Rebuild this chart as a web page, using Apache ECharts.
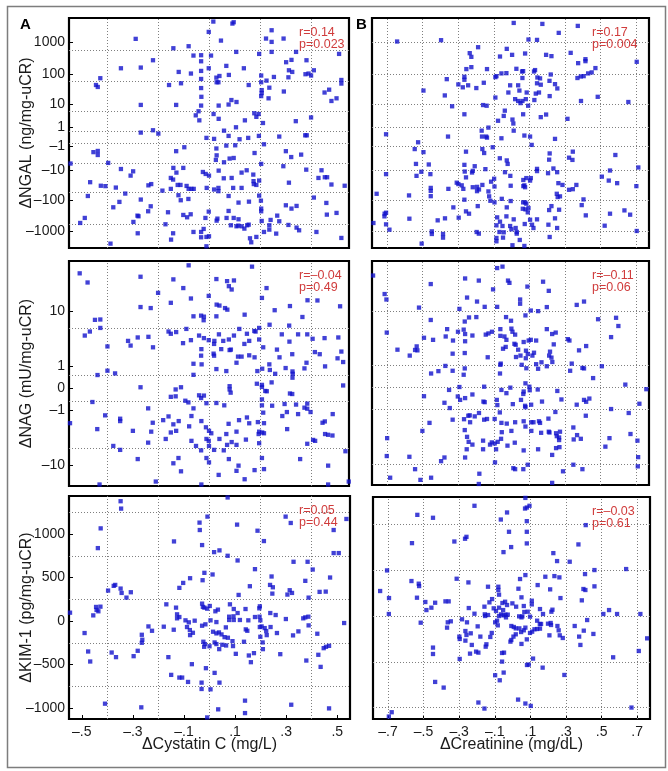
<!DOCTYPE html>
<html><head><meta charset="utf-8">
<script src="https://cdn.jsdelivr.net/npm/echarts@6/dist/echarts.min.js"></script>
<style>html,body{margin:0;padding:0;background:#fff}#c{width:668px;height:771px}</style>
</head><body><div id="c"></div>
<script>
// ---- data: [Δx, Δy] per subject ----
const ngalCystatin = [[0.017,4640],[0.092,4010],[0.097,4420],[-0.001,2180],[0.246,2460],[0.224,1340],[0.293,1340],[0.246,1050],[-0.288,1310],[0.047,1155],[-0.080,765],[-0.140,660],[-0.061,386],[-0.031,396],[0.008,386],[0.107,505],[0.246,505],[0.197,436],[0.342,505],[0.511,436],[-0.031,254],[-0.220,274],[0.383,274],[0.324,281],[0.303,237],[-0.346,152],[-0.268,160],[-0.001,152],[0.068,181],[0.137,152],[-0.031,125],[0.412,131],[0.314,131],[0.327,116],[-0.119,116],[-0.071,103],[0.041,86],[0.078,93],[-0.031,69],[0.029,76],[0.037,54],[0.030,54],[0.205,89],[0.255,80],[0.379,98],[0.391,103],[0.401,89],[0.312,78],[-0.427,73],[-0.444,44],[-0.437,38],[-0.110,50],[-0.157,44],[0.156,44],[0.205,54],[0.226,61],[0.520,64],[0.520,49],[0.237,36],[0.207,30],[0.207,24],[0.205,19],[0.294,27],[0.234,16],[0.454,25],[0.472,31],[0.501,16],[0.481,13],[-0.031,35],[-0.030,18],[-0.031,9],[0.038,9],[0.088,14],[0.108,12],[0.077,9.8],[-0.268,9.5],[-0.129,9.5],[-0.041,5.6],[-0.052,3.9],[-0.038,2.4],[0.018,4.4],[0.038,2.8],[0.195,4.4],[0.178,4.7],[0.186,3.4],[0.212,1.8],[0.141,2.4],[0.341,2.2],[0.401,3.2],[0.106,1.05],[0.059,0.6],[0.077,0.09],[0.154,-0.06],[0.196,0.09],[0.276,0.04],[0.378,0.14],[0.384,0.14],[-0.268,0.39],[-0.220,0.65],[-0.199,0.29],[-0.010,-0.06],[0.020,-0.14],[0.120,-0.17],[0.029,-1.3],[0.068,-0.86],[0.103,-0.82],[0.216,-0.69],[-0.097,-1.1],[-0.129,-1.8],[-0.454,-2.0],[-0.437,-1.75],[-0.437,-2.7],[0.302,-1.8],[0.179,-2.2],[0.030,-2.8],[0.323,-3.3],[0.362,-2.6],[0.059,-5.3],[0.081,-3.8],[0.097,-3.6],[0.027,-4.3],[0.205,-6.1],[0.292,-7.4],[0.382,-9.8],[-0.544,-5.9],[-0.396,-5.6],[-0.346,-9.3],[-0.298,-11.2],[-0.308,-15.7],[-0.024,-11.8],[-0.013,-13.8],[0.000,-15.7],[0.038,-10.6],[0.058,-19.3],[0.089,-18.8],[0.128,-12.4],[0.148,-10.3],[0.174,-14.5],[0.175,-24],[0.197,-23],[0.176,-30],[0.186,-32],[-0.140,-8.5],[-0.101,-8.5],[-0.128,-12.4],[-0.150,-18.8],[-0.141,-21.3],[0.442,-10.3],[0.430,-18.8],[0.455,-17.8],[0.464,-17.8],[0.481,-31],[0.533,-34],[-0.467,-26],[-0.425,-34],[-0.407,-35],[-0.366,-39],[-0.238,-33],[-0.227,-30],[-0.183,-49],[-0.150,-43],[-0.123,-32],[-0.112,-32],[-0.088,-34.5],[-0.080,-43],[-0.069,-43],[-0.060,-43],[-0.009,-40],[0.020,-45],[0.037,-40],[0.037,-51],[0.095,-40],[0.128,-40],[0.314,-27],[-0.476,-73],[-0.329,-61],[-0.120,-69],[-0.111,-100],[-0.081,-91],[0.077,-73],[0.197,-71],[0.204,-103],[0.412,-82],[-0.352,-113],[-0.268,-95],[0.116,-119],[0.157,-111],[-0.376,-168],[-0.281,-310],[-0.229,-156],[-0.239,-225],[-0.161,-242],[-0.072,-281],[-0.001,-231],[0.077,-220],[0.205,-185],[0.205,-225],[0.302,-145],[0.324,-185],[0.344,-152],[0.461,-122],[0.463,-288],[0.501,-254],[-0.488,-367],[-0.506,-530],[-0.297,-492],[-0.277,-325],[-0.171,-584],[-0.101,-295],[-0.086,-350],[-0.014,-367],[0.033,-386],[0.030,-447],[0.069,-367],[0.097,-367],[0.116,-405],[0.086,-628],[0.108,-677],[0.115,-644],[0.128,-677],[0.139,-802],[0.150,-628],[0.156,-599],[0.207,-458],[0.242,-425],[0.237,-628],[0.268,-310],[0.312,-613],[0.344,-745],[0.354,-907],[0.276,-469],[-0.280,-1129],[-0.141,-1129],[-0.061,-1025],[-0.031,-1025],[-0.021,-821],[-0.031,-1513],[0.000,-1405],[-0.010,-1475],[-0.149,-1794],[0.161,-1629],[0.186,-1475],[0.216,-1025],[0.237,-864],[0.264,-1156],[0.422,-1025],[0.520,-1588],[-0.387,-2404],[-0.010,-2922],[0.166,-2182]];

const ngalCreatinine = [[0.012,4200],[0.173,3910],[0.372,3380],[0.265,2030],[-0.643,1080],[-0.396,1190],[0.095,1250],[0.143,1215],[-0.188,712],[-0.027,631],[0.003,407],[-0.235,460],[-0.226,351],[-0.065,360],[0.076,449],[0.194,407],[0.224,370],[0.332,471],[0.374,221],[0.415,296],[0.415,256],[0.703,244],[-0.254,143],[-0.226,165],[-0.138,143],[0.027,146],[0.059,120],[0.065,123],[0.132,133],[0.126,120],[0.220,96],[0.061,74],[-0.029,106],[-0.057,104],[-0.085,85],[-0.091,79],[0.471,154],[0.450,112],[0.430,104],[0.405,85],[0.389,83],[0.370,74],[-0.265,81],[-0.265,65],[-0.299,46],[-0.274,37],[-0.244,43],[-0.198,35],[-0.156,52],[-0.364,68],[-0.495,29],[-0.008,43],[0.037,43],[-0.018,25],[0.044,29],[0.085,25],[0.145,77],[0.160,72],[0.143,50],[0.164,45],[0.213,60],[0.257,34],[0.244,47],[0.136,23],[0.154,25],[-0.375,20],[-0.091,17],[0.020,15],[0.037,13],[0.061,13],[0.080,15],[0.050,11],[0.093,8.9],[0.128,14],[0.214,19],[0.390,13],[0.484,18],[0.656,12],[-0.334,8.5],[-0.160,9.4],[-0.140,8.9],[-0.265,4.3],[-0.038,5.9],[-0.044,3.7],[-0.076,2.3],[0.005,2.6],[0.010,1.7],[0.065,4.3],[0.164,3.3],[0.194,4.2],[0.314,2.8],[0.012,0.6],[-0.168,0.6],[-0.130,1.0],[-0.143,0.04],[-0.166,0.04],[-0.138,-0.04],[-0.057,-0.09],[0.072,0.12],[0.104,0.04],[0.113,-0.77],[0.244,-0.14],[-0.705,0.23],[-0.357,0.04],[-0.525,-0.46],[-0.544,-1.4],[-0.495,-2.0],[-0.256,-1.9],[-0.164,-1.4],[-0.154,-2.2],[-0.106,-1.1],[0.214,-2.3],[0.211,-4.2],[0.323,-3.5],[0.344,-1.9],[0.342,-4.3],[0.583,-2.7],[-0.066,-3.7],[-0.027,-4.5],[-0.022,-6.1],[-0.537,-6.1],[-0.465,-6.4],[-0.507,-11.6],[-0.534,-16],[-0.456,-14],[-0.265,-6.6],[-0.207,-7.4],[-0.218,-10.8],[-0.222,-12.3],[-0.147,-9.4],[-0.037,-12],[-0.007,-16],[-0.263,-11.4],[-0.256,-18],[0.143,-9.2],[0.143,-11],[0.205,-13],[0.235,-8.9],[0.256,-12],[0.066,-22],[0.083,-19],[0.108,-19],[0.104,-23],[-0.098,-20],[-0.115,-25],[0.507,-17],[0.553,-10.5],[0.546,-23],[0.593,-28],[0.712,-8.2],[-0.705,-14],[-0.308,-27],[-0.299,-30],[-0.280,-33],[-0.271,-43],[-0.218,-38],[-0.194,-37],[-0.164,-32],[-0.194,-51],[-0.183,-45],[-0.130,-52],[-0.096,-36],[-0.005,-34],[0.066,-35],[0.072,-33],[0.076,-38],[0.263,-28],[0.286,-32],[0.323,-46],[0.344,-44],[0.364,-32],[0.701,-35],[-0.758,-62],[-0.576,-70],[-0.454,-40],[-0.454,-50],[-0.355,-43],[-0.454,-74],[-0.265,-96],[-0.126,-75],[-0.119,-104],[-0.096,-117],[-0.055,-90],[-0.005,-106],[0.065,-117],[0.076,-117],[0.083,-129],[0.254,-62],[0.259,-79],[0.272,-75],[0.404,-94],[0.394,-143],[0.224,-154],[-0.327,-169],[-0.713,-269],[-0.705,-250],[-0.705,-587],[-0.686,-866],[-0.574,-388],[-0.415,-438],[-0.374,-378],[-0.297,-360],[-0.256,-227],[-0.239,-269],[-0.190,-154],[0.063,-187],[0.078,-196],[0.095,-178],[0.091,-244],[-0.027,-169],[-0.081,-352],[-0.065,-483],[-0.029,-327],[0.012,-407],[0.104,-418],[0.143,-407],[0.211,-206],[0.244,-378],[0.267,-201],[0.417,-304],[0.553,-269],[0.634,-211],[0.666,-289],[-0.714,-327],[-0.776,-532],[-0.448,-979],[-0.448,-1188],[-0.385,-1188],[-0.385,-1552],[-0.196,-1027],[-0.184,-1160],[-0.085,-631],[-0.051,-663],[-0.008,-663],[-0.068,-1027],[-0.044,-1051],[-0.001,-844],[0.023,-766],[0.029,-1027],[0.029,-1160],[0.074,-573],[0.115,-602],[0.123,-766],[0.207,-602],[0.256,-766],[0.523,-648],[0.703,-954],[-0.505,-2400],[-0.085,-1590],[-0.085,-2030],[-0.048,-1552],[0.046,-1840],[0.072,-2850],[0.214,-1480],[0.005,-2710]];

const nagCystatin = [[-0.508,35.5],[-0.477,26.4],[-0.080,45.9],[0.169,44],[-0.269,31.8],[-0.140,29.2],[0.029,29.5],[0.071,27.6],[0.098,28.2],[0.078,23.4],[0.089,21],[-0.101,22],[0.226,22],[-0.200,18.8],[-0.001,17],[-0.071,15.6],[-0.150,13.5],[0.030,12.7],[0.041,12.3],[0.063,11.3],[0.072,10.7],[0.208,15.9],[0.258,10.5],[0.318,12.1],[0.387,14.7],[0.426,14.6],[0.515,12.0],[-0.269,11.7],[-0.229,11.3],[-0.448,7.5],[-0.427,7.6],[-0.427,5.6],[-0.488,4.2],[-0.468,4.9],[-0.399,2.7],[-0.318,3.4],[-0.308,2.8],[-0.280,3.9],[-0.238,4.0],[-0.220,2.6],[-0.061,8.5],[-0.031,8.7],[-0.020,8.4],[-0.021,7.4],[0.029,8.5],[0.140,9],[0.238,6.3],[0.315,6.1],[0.367,8.3],[-0.159,4.9],[-0.150,4.5],[-0.129,4.8],[-0.102,3.1],[-0.089,5.4],[-0.071,3.5],[-0.039,4.2],[-0.020,3.8],[-0.001,3.5],[0.021,3.4],[0.020,3.0],[0.039,4.4],[0.056,3.4],[0.078,3.6],[0.098,4.2],[0.119,5.4],[0.139,3.0],[0.149,4.5],[0.158,3.4],[0.178,5.0],[0.183,4.9],[0.197,5.6],[0.197,3.6],[0.213,2.6],[0.286,4.4],[0.316,3.3],[0.350,4.4],[0.386,4.4],[0.407,3.7],[0.454,3.8],[0.508,3.9],[-0.030,2.4],[0.048,2.4],[0.086,2.35],[0.081,2.3],[0.018,1.95],[0.020,1.77],[-0.031,1.77],[0.114,1.69],[0.128,1.69],[0.158,1.8],[0.179,1.63],[0.267,2.35],[0.277,1.63],[0.327,1.9],[0.416,2.1],[0.435,1.9],[0.520,2.15],[0.505,1.55],[0.527,1.27],[-0.061,1.15],[-0.029,1.11],[0.108,1.22],[-0.399,0.73],[-0.369,0.59],[-0.438,0.51],[-0.061,0.52],[0.029,0.82],[0.068,0.71],[0.190,0.71],[0.209,0.84],[0.237,1.11],[0.239,0.77],[0.260,0.57],[0.301,0.88],[0.328,0.69],[0.329,0.57],[0.328,0.39],[0.375,0.86],[0.383,1.22],[0.456,0.98],[-0.269,0.03],[-0.131,-0.04],[-0.110,0.03],[0.208,0.11],[0.208,0.04],[0.188,0.15],[0.221,-0.09],[0.227,-0.1],[0.246,0.20],[0.081,0.065],[0.081,-0.04],[0.085,-0.15],[0.527,0.09],[0.327,-0.2],[0.318,-0.18],[-0.150,-0.31],[-0.131,-0.29],[-0.039,-0.25],[-0.031,-0.36],[-0.020,-0.26],[-0.010,-0.6],[0.029,-0.59],[0.060,-0.71],[-0.093,-0.48],[-0.081,-0.56],[-0.061,-0.88],[-0.458,-0.54],[-0.239,-0.88],[0.208,-0.42],[0.208,-0.71],[0.248,-0.73],[0.213,-1.15],[0.297,-0.64],[0.306,-1.11],[0.342,-0.67],[0.375,-0.84],[0.386,-0.62],[0.386,-0.9],[0.350,-1.25],[0.399,-1.11],[-0.546,-1.99],[-0.408,-1.34],[-0.349,-1.6],[-0.349,-1.8],[-0.221,-1.95],[-0.180,-1.72],[-0.159,-1.42],[-0.140,-2.1],[-0.119,-1.8],[-0.078,-2.3],[-0.069,-1.39],[-0.030,-1.8],[0.077,-2.05],[0.118,-1.72],[0.149,-1.5],[0.158,-2.0],[0.192,-1.89],[0.216,-1.99],[0.197,-2.9],[0.209,-3.0],[0.216,-3.1],[0.288,-1.39],[0.307,-2.6],[0.446,-1.95],[0.455,-1.83],[0.486,-1.25],[-0.439,-2.6],[-0.299,-2.8],[-0.227,-2.9],[-0.170,-3.9],[-0.150,-3.0],[-0.129,-2.8],[-0.069,-4.2],[-0.012,-2.4],[0.000,-2.8],[0.009,-3.1],[-0.010,-3.9],[-0.001,-4.2],[0.041,-3.9],[0.068,-3.2],[0.108,-2.9],[0.195,-3.2],[0.456,-3.2],[0.468,-3.3],[0.485,-3.4],[-0.376,-5.1],[-0.349,-5.9],[-0.239,-4.5],[-0.051,-5.1],[-0.031,-6.0],[0.000,-5.1],[0.020,-5.9],[0.058,-6.0],[0.071,-4.9],[0.089,-4.4],[0.108,-4.9],[0.145,-4.0],[0.197,-4.6],[0.386,-4.7],[0.409,-4.05],[0.417,-4.2],[0.536,-6.2],[-0.280,-8.2],[-0.140,-9.5],[-0.120,-7.9],[-0.010,-7.9],[0.000,-9.2],[0.038,-14.1],[0.078,-8.2],[0.108,-12.3],[0.116,-10.3],[0.140,-16.3],[0.179,-12.0],[0.208,-7.9],[0.216,-11.6],[0.358,-8.2],[0.468,-10.3],[-0.209,-17.6],[-0.430,-19.4],[-0.030,-19.4],[0.468,-19.4],[0.549,-17.6],[-0.110,-12.5]];

const nagCreatinine = [[-0.081,42],[-0.051,44],[-0.778,33],[-0.713,18],[-0.703,15],[-0.454,25],[-0.261,30],[-0.184,28],[-0.104,21],[-0.020,28],[-0.012,26],[0.089,23],[0.177,27],[0.209,20],[0.048,15],[0.048,13],[-0.250,16],[-0.194,14],[-0.520,11.4],[-0.293,10.9],[-0.151,11.7],[-0.081,11.7],[0.108,10.3],[0.149,10.1],[0.198,11.6],[0.366,12.5],[0.407,14],[-0.454,7.4],[-0.263,7.0],[-0.239,8.1],[-0.198,8.2],[-0.031,8.2],[-0.003,7.2],[0.078,8.7],[0.486,7.6],[0.587,8.0],[0.600,5.95],[-0.701,4.65],[-0.492,3.8],[-0.441,3.5],[-0.362,5.3],[-0.370,4.0],[-0.329,3.4],[-0.301,4.8],[-0.269,5.2],[-0.261,4.4],[-0.261,3.3],[-0.220,4.15],[-0.145,4.3],[-0.130,4.5],[-0.110,4.8],[-0.063,4.1],[-0.063,5.3],[-0.040,4.0],[-0.001,5.4],[0.005,4.8],[0.016,2.97],[0.023,2.85],[-0.029,3.5],[-0.033,2.6],[0.020,4.3],[0.068,3.2],[0.096,3.4],[0.108,3.5],[0.138,3.4],[0.198,5.3],[0.228,4.4],[0.248,4.65],[0.237,2.9],[0.316,3.6],[0.325,3.4],[0.559,3.9],[-0.641,2.3],[-0.572,1.74],[-0.542,2.27],[-0.533,2.66],[-0.529,2.23],[-0.331,1.91],[-0.263,1.97],[-0.134,1.6],[-0.061,1.13],[-0.048,2.4],[0.025,1.62],[0.037,2.3],[0.050,1.74],[0.080,1.52],[0.091,1.88],[0.117,1.74],[0.126,2.0],[0.081,2.2],[0.211,1.74],[0.216,2.1],[0.224,1.57],[0.229,1.24],[0.168,1.22],[0.057,1.05],[0.083,0.84],[0.138,1.09],[0.149,0.81],[0.198,0.96],[0.329,0.7],[0.338,1.13],[0.398,0.86],[0.407,0.83],[0.419,2.7],[0.379,2.23],[0.507,0.96],[-0.372,0.98],[-0.411,0.68],[-0.452,0.56],[-0.331,0.7],[-0.269,0.5],[-0.263,0.83],[-0.065,0.56],[-0.063,1.05],[-0.007,0],[0.078,0.145],[0.066,-0.22],[0.100,0.03],[0.102,-0.085],[0.147,-0.06],[0.068,-0.13],[0.257,-0.11],[-0.351,-0.075],[-0.293,0.02],[-0.302,-0.32],[-0.289,-0.47],[-0.261,-0.39],[-0.220,-0.24],[-0.154,0.03],[-0.158,-0.55],[-0.151,-0.58],[-0.083,-0.47],[-0.080,-0.73],[-0.057,-0.075],[-0.029,-0.19],[0.007,-0.68],[0.053,-0.47],[0.076,-0.77],[0.078,-0.85],[0.110,-0.71],[0.171,-0.55],[0.280,-0.45],[0.366,-0.71],[0.407,-0.47],[0.419,-0.56],[0.437,-0.41],[0.458,0.35],[0.639,0.1],[0.757,-0.05],[-0.492,-0.31],[-0.377,-0.61],[-0.347,-0.9],[0.718,-0.66],[-0.243,-1.42],[-0.235,-1.39],[-0.207,-1.47],[-0.183,-1.22],[-0.154,-1.74],[-0.138,-1.68],[-0.331,-1.74],[-0.267,-1.7],[-0.233,-1.97],[-0.095,-1.68],[-0.066,-1.18],[-0.057,-2.03],[-0.027,-2.1],[-0.001,-2.9],[0.020,-1.97],[0.068,-1.88],[0.078,-2.4],[0.111,-1.97],[0.123,-1.97],[0.154,-1.88],[0.160,-2.03],[0.111,-2.9],[0.166,-3.14],[0.209,-3.0],[0.213,-3.1],[0.250,-3.2],[0.254,-3.6],[0.267,-3.8],[0.267,-4.2],[0.272,-3.0],[0.246,-1.15],[0.207,-1.65],[0.417,-1.42],[0.347,-2.5],[0.368,-3.45],[0.389,-4.0],[0.349,-4.1],[0.559,-0.96],[0.658,-1.22],[0.668,-3.3],[0.707,-4.3],[-0.461,-2.03],[-0.501,-2.9],[-0.699,-3.9],[-0.701,-7.6],[-0.574,-7.8],[-0.263,-2.8],[-0.250,-3.7],[-0.252,-5.95],[-0.241,-4.5],[-0.220,-5.0],[-0.160,-4.3],[-0.160,-5.95],[-0.121,-5.0],[-0.111,-4.6],[-0.095,-4.8],[-0.078,-4.5],[-0.087,-5.95],[-0.059,-4.0],[-0.055,-3.06],[-0.023,-5.2],[0.018,-4.65],[0.068,-6.2],[0.149,-5.95],[0.228,-7.3],[0.250,-5.7],[0.269,-5.5],[0.527,-5.4],[0.550,-3.9],[-0.396,-9.1],[-0.377,-8.0],[-0.261,-8.0],[-0.181,-14.0],[-0.093,-9.5],[0.010,-11.6],[0.020,-12.0],[0.066,-12.0],[0.091,-10.3],[0.289,-12.9],[0.347,-10.3],[0.398,-12.0],[0.711,-7.9],[0.709,-10.9],[-0.682,-16],[-0.542,-12.0],[-0.512,-17.2],[-0.452,-16],[-0.184,-19.7],[0.228,-19]];

const kimCystatin = [[-0.348,1377],[-0.346,1292],[0.071,1420],[-0.008,1200],[-0.039,1131],[-0.038,1046],[0.108,1108],[0.298,1200],[0.318,1127],[0.536,1173],[-0.426,1065],[0.188,1038],[0.486,1046],[-0.437,838],[-0.139,915],[-0.029,873],[0.213,919],[0.018,792],[0.039,812],[0.071,750],[0.110,696],[0.486,781],[0.506,781],[0.404,592],[0.384,681],[0.178,596],[0.243,512],[0.329,681],[0.375,462],[0.431,335],[0.455,338],[0.472,500],[0.237,415],[0.248,388],[0.246,315],[0.314,354],[0.323,323],[0.305,304],[0.388,269],[-0.020,554],[0.012,535],[-0.027,469],[0.114,300],[0.158,400],[-0.076,492],[-0.103,438],[-0.118,381],[-0.369,415],[-0.348,373],[-0.344,323],[-0.325,269],[-0.308,331],[-0.397,350],[-0.375,404],[-0.455,65],[-0.444,162],[-0.435,112],[-0.427,165],[-0.442,127],[-0.546,96],[-0.489,-138],[-0.475,-350],[-0.467,-465],[-0.265,-158],[-0.263,-215],[-0.239,-62],[-0.225,-112],[-0.265,-250],[-0.179,-65],[-0.140,-100],[-0.169,192],[-0.131,154],[-0.127,77],[-0.127,31],[-0.118,46],[-0.094,8],[-0.088,-69],[-0.081,-15],[-0.077,-104],[-0.065,-135],[-0.076,-162],[-0.058,4],[-0.029,200],[-0.026,162],[-0.029,-54],[-0.020,154],[-0.009,142],[0.001,173],[0.004,8],[0.027,-12],[0.023,112],[0.033,131],[-0.016,-38],[-0.018,-265],[-0.021,-296],[0.000,-290],[0.020,-246],[0.037,-131],[0.027,-142],[0.047,-154],[0.059,-185],[0.064,-73],[0.077,50],[0.077,12],[0.080,192],[0.095,138],[0.094,54],[0.095,12],[0.110,92],[0.119,12],[0.141,138],[0.152,8],[0.148,-112],[0.195,146],[0.197,169],[0.199,8],[0.197,-69],[0.199,-181],[0.204,-62],[0.208,-246],[0.209,-323],[0.216,-81],[0.222,-115],[0.239,-69],[0.224,-162],[0.264,-138],[0.238,92],[0.259,69],[0.196,50],[0.178,46],[0.090,-231],[0.072,-192],[0.065,-281],[0.027,-265],[0.014,-123],[-0.024,-238],[0.050,-273],[0.038,-323],[0.092,-288],[0.135,-238],[0.142,-96],[0.174,-369],[0.154,-396],[0.162,-473],[0.103,-377],[-0.383,-362],[-0.281,-342],[-0.297,-404],[-0.366,-415],[-0.161,-415],[-0.150,-619],[-0.118,-650],[-0.069,-496],[-0.031,-708],[-0.014,-542],[0.020,-596],[0.039,-708],[-0.107,-650],[-0.084,-700],[0.277,-381],[0.299,23],[0.327,-165],[0.348,-119],[0.367,31],[0.375,42],[0.388,-50],[0.387,50],[0.379,-454],[0.422,-146],[0.426,-388],[0.435,-527],[0.447,-312],[0.456,-296],[0.468,-285],[0.527,-23],[-0.409,-950],[-0.267,-992],[-0.009,-1108],[0.034,-1015],[0.139,-915],[0.139,-1058],[0.320,-962],[0.468,-1004],[-0.031,-781],[0.004,-785]];

const kimCreatinine = [[0.072,1290],[0.070,1174],[0.080,1185],[0.095,1204],[-0.031,1131],[-0.066,1054],[0.080,1036],[0.080,920],[0.080,793],[0.411,993],[-0.020,920],[-0.008,753],[-0.051,698],[-0.535,1105],[-0.447,1073],[-0.214,1204],[-0.327,814],[-0.267,844],[-0.259,865],[-0.565,796],[0.370,782],[0.229,687],[0.250,600],[0.321,593],[-0.705,498],[0.042,404],[0.072,447],[0.141,338],[0.184,429],[0.235,436],[0.263,422],[0.211,291],[0.269,196],[0.407,458],[0.460,502],[0.638,513],[0.460,324],[0.398,295],[0.409,284],[0.389,171],[0.542,65],[0.510,22],[0.587,22],[0.718,22],[0.756,-244],[-0.744,273],[-0.694,196],[-0.695,22],[-0.568,382],[-0.527,353],[-0.525,327],[-0.537,200],[-0.490,153],[-0.484,65],[-0.456,91],[-0.435,145],[-0.377,160],[-0.359,160],[-0.314,407],[-0.248,367],[-0.138,320],[-0.080,320],[-0.080,284],[0.033,298],[0.050,204],[-0.076,233],[-0.158,102],[-0.130,149],[-0.115,185],[-0.156,18],[-0.154,0],[-0.138,11],[-0.106,84],[-0.093,55],[-0.076,91],[-0.057,142],[-0.042,156],[-0.031,120],[-0.053,65],[-0.051,7],[-0.040,15],[-0.027,15],[-0.001,138],[0.020,102],[0.037,-4],[0.063,109],[0.066,44],[0.085,47],[0.108,167],[0.108,127],[0.098,-7],[0.154,76],[0.171,22],[0.218,47],[0.224,69],[0.055,-4],[0.050,-15],[0.138,-51],[0.160,-87],[0.199,-84],[0.214,-76],[0.216,-98],[0.252,-109],[-0.516,-73],[-0.364,-69],[-0.368,-127],[-0.347,-58],[-0.284,-36],[-0.256,-69],[-0.246,87],[-0.214,25],[-0.196,-113],[-0.235,-189],[-0.265,-164],[-0.259,-207],[-0.299,-225],[-0.297,-251],[-0.265,-269],[-0.229,-316],[-0.181,-225],[-0.147,-309],[-0.151,-335],[-0.125,-229],[-0.117,-185],[-0.083,-102],[-0.098,-69],[-0.087,-51],[-0.076,0],[-0.065,18],[-0.037,-15],[-0.007,-109],[0.007,-120],[0.018,-135],[0.038,-135],[0.063,-156],[0.072,-127],[0.048,-175],[0.018,-200],[0.005,-225],[-0.007,-262],[-0.012,-280],[0.050,-305],[0.080,-255],[0.098,-185],[0.110,-171],[0.123,-145],[0.138,-142],[0.154,-138],[0.153,-87],[0.207,-211],[0.259,-156],[0.265,-211],[0.282,-240],[0.349,-109],[0.374,-225],[0.381,-316],[0.400,-160],[0.419,-44],[0.454,-196],[-0.447,-345],[-0.447,-415],[-0.297,-469],[-0.239,-411],[-0.205,-389],[-0.192,-400],[-0.059,-404],[-0.048,-400],[-0.059,-498],[-0.050,-618],[0.081,-535],[0.091,-531],[0.115,-465],[0.169,-564],[-0.098,-647],[-0.072,-702],[0.291,-644],[0.565,-451],[0.709,-382],[-0.435,-720],[-0.387,-782],[-0.192,-945],[-0.158,-1011],[0.031,-913],[0.072,-956],[0.102,-982],[0.668,-1000],[-0.695,-1098],[-0.679,-1051]];

// ---- tick labels ----
const cystatinTicks = [-0.5,-0.3,-0.1,0.1,0.3,0.5];
const creatinineTicks = [-0.7,-0.5,-0.3,-0.1,0.1,0.3,0.5,0.7];
const ngalTicks = [-1000,-100,-10,-1,1,10,100,1000];
const nagTicks = [-10,-1,0,1,10];
const kimTicks = [-1000,-500,0,500,1000];
// grid line values (panel A grids are offset from its labels, as in the figure)
const cystatinGrid = [-0.4,-0.2,0,0.2,0.4];
const ngalGridA = [-580,-57,-5.7,-0.5,0.5,5.7,57,580];
const nagGridA = [-5.6,-0.5,0.5,5.6];
const kimGridA = [-750,-250,250,750,1250];
// correlation statistics
const statsR = ['r=0.14','r=0.17','r=\u20130.04','r=\u20130.11','r=0.05','r=\u20130.03'];
const statsP = ['p=0.023','p=0.004','p=0.49','p=0.06','p=0.44','p=0.61'];

const slog = v => Math.sign(v) * Math.log10(1 + Math.abs(v));
const unslog = t => Math.sign(t) * (Math.pow(10, Math.abs(t)) - 1);
const ident = v => v;
const dash = s => s.replace('-', '\u2013');
const fmtX = v => dash((Math.round(v * 10) / 10).toFixed(1).replace('0.', '.'));
const FONT = 'Liberation Sans, Arial, Helvetica, sans-serif';
const BLUE = '#1212cc';

const panels = [
  {grid:{left:69, top:18, width:280, height:230}, data:ngalCystatin, xr:[-0.55,0.55], yr:[-3.52,3.78], tf:slog, xt:cystatinTicks, yt:ngalTicks, xg:cystatinGrid, yg:ngalGridA, col:0, row:0, yname:'\u0394NGAL (ng/mg-uCR)'},
  {grid:{left:372, top:18, width:277, height:230}, data:ngalCreatinine, xr:[-0.784,0.772], yr:[-3.52,3.78], tf:slog, xt:creatinineTicks, yt:ngalTicks, xg:creatinineTicks, yg:ngalTicks, col:1, row:0},
  {grid:{left:69, top:261, width:280, height:225}, data:nagCystatin, xr:[-0.55,0.55], yr:[-1.33,1.73], tf:slog, xt:cystatinTicks, yt:nagTicks, xg:cystatinGrid, yg:nagGridA, col:0, row:1, yname:'\u0394NAG (mU/mg-uCR)'},
  {grid:{left:372, top:261, width:277, height:224}, data:nagCreatinine, xr:[-0.784,0.772], yr:[-1.33,1.73], tf:slog, xt:creatinineTicks, yt:nagTicks, xg:creatinineTicks, yg:nagTicks, col:1, row:1},
  {grid:{left:69, top:496, width:281, height:223}, data:kimCystatin, xr:[-0.55,0.55], yr:[-1126,1437], tf:ident, xt:cystatinTicks, yt:kimTicks, xg:cystatinGrid, yg:kimGridA, col:0, row:2, yname:'\u0394KIM-1 (pg/mg-uCR)', xname:'\u0394Cystatin C (mg/L)'},
  {grid:{left:373, top:497, width:277, height:222}, data:kimCreatinine, xr:[-0.784,0.772], yr:[-1125,1300], tf:ident, xt:creatinineTicks, yt:kimTicks, xg:creatinineTicks, yg:kimTicks, col:1, row:2, xname:'\u0394Creatinine (mg/dL)'}
];

const grids = [], xAxes = [], yAxes = [], series = [], graphics = [];
panels.forEach((p, i) => {
  grids.push(Object.assign({show:true, borderColor:'#000', borderWidth:2.2, backgroundColor:'rgba(0,0,0,0)'}, p.grid));
  const showX = p.row === 2, showY = p.col === 0;
  const isLog = p.tf === slog;
  xAxes.push({
    type:'value', gridIndex:i, min:p.xr[0], max:p.xr[1], position:'bottom',
    axisLine:{show:false, onZero:false}, splitLine:{show:false},
    axisTick:{show:showX, inside:true, length:4, customValues:p.xt, lineStyle:{color:'#000', width:1}},
    axisLabel:{show:showX, customValues:p.xt, formatter:fmtX, margin:6, fontSize:14, color:'#1a1a1a', fontFamily:FONT},
    name:p.xname || '', nameLocation:'middle', nameGap:18, nameMoveOverlap:false,
    nameTextStyle:{fontSize:16, color:'#1a1a1a', fontFamily:FONT}
  });
  yAxes.push({
    type:'value', gridIndex:i, min:p.yr[0], max:p.yr[1], position:'left',
    axisLine:{show:false, onZero:false}, splitLine:{show:false},
    axisTick:{show:showY, inside:true, length:4, customValues:p.yt.map(p.tf), lineStyle:{color:'#000', width:1}},
    axisLabel:{show:showY, customValues:p.yt.map(p.tf), margin:4, fontSize:14, color:'#1a1a1a', fontFamily:FONT,
      formatter: v => dash(String(Math.round(isLog ? unslog(v) : v)))},
    name:p.yname || '', nameLocation:'middle', nameGap:34, nameMoveOverlap:false,
    nameTextStyle:{fontSize:16, color:'#1a1a1a', fontFamily:FONT}
  });
  series.push({
    type:'scatter', xAxisIndex:i, yAxisIndex:i, z:3,
    symbol:'rect', symbolSize:4.3, itemStyle:{color:BLUE},
    data:p.data.map(d => [d[0], p.tf(d[1])]),
    markLine:{
      silent:true, symbol:['none','none'], z:1, animation:false,
      label:{show:false},
      lineStyle:{type:[1,2], color:'#7f7f7f', width:1},
      emphasis:{disabled:true},
      data: p.xg.map(v => ({xAxis:v})).concat(p.yg.map(v => ({yAxis:p.tf(v)})))
    }
  });
  const sx = p.col === 0 ? 299 : 592;
  const sy = p.grid.top + 8;
  graphics.push({type:'text', left:sx, top:sy, z:10, style:{text:statsR[i], fill:'#d03c3c', font:'12.5px ' + FONT}});
  graphics.push({type:'text', left:sx, top:sy + 12.5, z:10, style:{text:statsP[i], fill:'#d03c3c', font:'12.5px ' + FONT}});
});
graphics.push({type:'rect', left:5, top:4, z:0, shape:{width:658, height:761}, style:{fill:'none', stroke:'#7d7d7d', lineWidth:1.5}});
graphics.push({type:'text', left:20, top:17, z:10, style:{text:'A', fill:'#000', font:'bold 15px ' + FONT}});
graphics.push({type:'text', left:356, top:17, z:10, style:{text:'B', fill:'#000', font:'bold 15px ' + FONT}});

const chart = echarts.init(document.getElementById('c'), null, {renderer:'canvas'});
chart.setOption({
  animation:false, backgroundColor:'#fff',
  grid:grids, xAxis:xAxes, yAxis:yAxes, series:series, graphic:graphics
});
</script></body></html>
